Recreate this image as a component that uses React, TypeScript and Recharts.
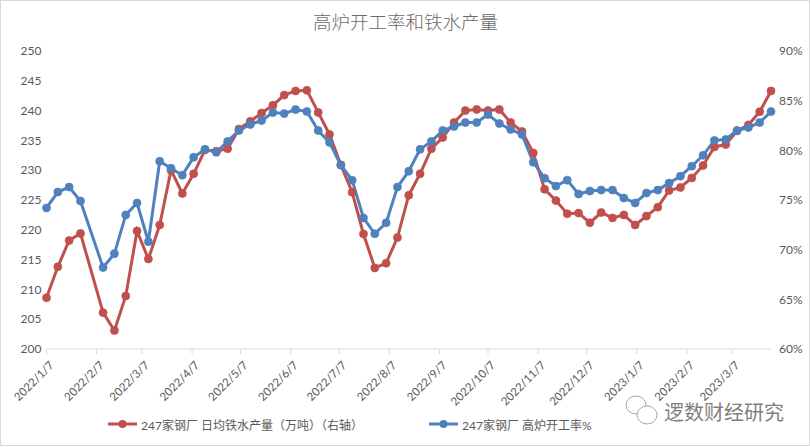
import React from "react";
import { LineChart, Line, XAxis, YAxis, Legend } from "recharts";

const dates = [
  "2022/1/7","2022/1/14","2022/1/21","2022/1/28","2022/2/11","2022/2/18","2022/2/25","2022/3/4","2022/3/11","2022/3/18","2022/3/25",
  "2022/4/1","2022/4/8","2022/4/15","2022/4/22","2022/4/29","2022/5/6","2022/5/13","2022/5/20","2022/5/27","2022/6/3",
  "2022/6/10","2022/6/17","2022/6/24","2022/7/1","2022/7/8","2022/7/15","2022/7/22","2022/7/29","2022/8/5","2022/8/12","2022/8/19","2022/8/26",
  "2022/9/2","2022/9/9","2022/9/16","2022/9/23","2022/9/30","2022/10/7","2022/10/14","2022/10/21","2022/10/28","2022/11/4",
  "2022/11/11","2022/11/18","2022/11/25","2022/12/2","2022/12/9","2022/12/16","2022/12/23","2022/12/30",
  "2023/1/6","2023/1/13","2023/1/20","2023/1/27","2023/2/3","2023/2/10","2023/2/17","2023/2/24","2023/3/3","2023/3/10","2023/3/17","2023/3/24","2023/3/31",
];
const ironOutput = [
  208.6,213.8,218.2,219.4,206.1,203.1,208.9,219.8,215.1,220.8,230.0,
  226.1,229.4,233.4,233.2,233.6,236.9,238.2,239.6,240.9,242.6,
  243.3,243.4,239.7,236.0,230.9,226.3,219.3,213.6,214.4,218.7,225.8,229.4,
  233.6,235.5,238.0,240.0,240.2,240.0,240.2,238.0,236.5,232.9,
  226.8,224.9,222.7,222.8,221.2,222.9,222.0,222.5,
  220.8,222.3,223.8,226.6,227.1,228.7,230.8,233.9,234.3,236.6,237.6,239.8,243.3,
];
const utilization = [
  74.2,75.8,76.3,74.9,68.2,69.6,73.5,74.7,70.8,78.9,78.2,
  77.5,79.3,80.1,79.8,80.9,82.0,82.6,83.0,83.8,83.7,
  84.1,83.9,82.0,80.8,78.5,77.0,73.2,71.6,72.7,76.3,77.9,80.1,
  80.9,82.0,82.4,82.8,82.8,83.6,82.7,82.1,81.6,78.8,
  77.2,76.4,77.0,75.6,75.9,76.0,76.0,75.2,
  74.7,75.7,76.0,76.7,77.4,78.4,79.5,81.0,81.1,82.0,82.3,82.8,83.9,
];
const monthTicks = [
  "2022/1/7","2022/2/7","2022/3/7","2022/4/7","2022/5/7","2022/6/7","2022/7/7","2022/8/7",
  "2022/9/7","2022/10/7","2022/11/7","2022/12/7","2023/1/7","2023/2/7","2023/3/7",
];
const leftTicks = [200,205,210,215,220,225,230,235,240,245,250];
const rightTicks = [60,65,70,75,80,85,90];
const title = "高炉开工率和铁水产量";
const seriesIron = "247家钢厂 日均铁水产量（万吨）（右轴）";
const seriesUtil = "247家钢厂 高炉开工率%";
const watermark = "逻数财经研究";

const toDay = (s: string) => {
  const [y, m, d] = s.split("/").map(Number);
  return Date.UTC(y, m - 1, d) / 86400000;
};
const dayLabel = (n: number) => {
  const dt = new Date(n * 86400000);
  return `${dt.getUTCFullYear()}/${dt.getUTCMonth() + 1}/${dt.getUTCDate()}`;
};
const rows = dates.map((d, i) => ({ day: toDay(d), iron: ironOutput[i], util: utilization[i] }));

const FONT = "Lato, 'Noto Sans CJK SC', sans-serif";
const TXT = "#595959";
const RED = "#c0504d";
const BLUE = "#4f81bd";

const DateTick = (p: any) => (
  <g>
    <line x1={p.x} x2={p.x} y1={349} y2={354} stroke="#d9d9d9" />
    <text
      x={p.x + 8}
      y={366}
      textAnchor="end"
      fontSize={11.5}
      fontFamily={FONT}
      fill={TXT}
      transform={`rotate(-45 ${p.x + 8} 366)`}
    >
      {dayLabel(p.payload.value)}
    </text>
  </g>
);

const LegendBox = () => (
  <div style={{ position: "relative", width: 810, height: 20, fontFamily: FONT, fontSize: 12, color: TXT }}>
    {[
      { left: 108, color: RED, label: seriesIron },
      { left: 429, color: BLUE, label: seriesUtil },
    ].map((e) => (
      <div key={e.label} style={{ position: "absolute", left: e.left, top: 0, whiteSpace: "nowrap", display: "flex", alignItems: "center", height: 20 }}>
        <svg width={30} height={20} style={{ display: "block" }}>
          <line x1={0} x2={29} y1={10} y2={10} stroke={e.color} strokeWidth={3} />
          <circle cx={14.5} cy={10} r={4} fill={e.color} />
        </svg>
        <span style={{ marginLeft: 3 }}>{e.label}</span>
      </div>
    ))}
  </div>
);

export default function App() {
  return (
    <div style={{ position: "absolute", left: 0, top: 0, width: 810, height: 447, background: "#fff", overflow: "hidden" }}>
      <LineChart
        width={810}
        height={447}
        data={rows}
        margin={{ top: 51, right: 0, bottom: 0, left: 0 }}
        style={{ position: "absolute", left: 0, top: 0 }}
      >
        <XAxis
          dataKey="day"
          type="number"
          scale="linear"
          domain={[toDay(dates[0]), toDay(dates[dates.length - 1])]}
          ticks={monthTicks.map(toDay)}
          tick={<DateTick />}
          tickLine={false}
          axisLine={{ stroke: "#d9d9d9" }}
          height={78}
          interval={0}
        />
        <YAxis
          yAxisId="left"
          orientation="left"
          domain={[200, 250]}
          ticks={leftTicks}
          interval={0}
          width={46.5}
          axisLine={false}
          tickLine={false}
          tickMargin={-1}
          tick={{ fontSize: 12, fontFamily: FONT, fill: TXT }}
        />
        <YAxis
          yAxisId="right"
          orientation="right"
          domain={[60, 90]}
          ticks={rightTicks}
          interval={0}
          width={39}
          axisLine={false}
          tickLine={false}
          tickFormatter={(v: number) => `${v}%`}
          tick={{ fontSize: 12, fontFamily: FONT, fill: TXT }}
        />
        <Legend
          content={<LegendBox />}
          wrapperStyle={{ position: "absolute", left: 0, top: 414, width: 810, height: 20 }}
        />
        <Line
          yAxisId="left"
          dataKey="iron"
          name={seriesIron}
          stroke={RED}
          strokeWidth={3}
          dot={{ r: 4, fill: RED, stroke: RED, strokeWidth: 0.75, clipDot: false }}
          activeDot={false}
          isAnimationActive={false}
        />
        <Line
          yAxisId="right"
          dataKey="util"
          name={seriesUtil}
          stroke={BLUE}
          strokeWidth={3}
          dot={{ r: 4, fill: BLUE, stroke: BLUE, strokeWidth: 0.75, clipDot: false }}
          activeDot={false}
          isAnimationActive={false}
        />
        <text x={405.5} y={29} textAnchor="middle" fontSize={18.5} fontWeight={300} fontFamily="'Noto Sans CJK SC', serif" fill="#6a6a6a">
          {title}
        </text>
        <g fill="#fff" stroke="#a6a6a6" strokeWidth={1}>
          <ellipse cx={636} cy={405} rx={10} ry={9} />
          <ellipse cx={647} cy={415} rx={10} ry={9} />
        </g>
        <text x={664} y={420} fontSize={20} fontFamily="'Noto Sans CJK SC', sans-serif" fill="#7f7f7f">
          {watermark}
        </text>
        <rect x={0.5} y={0.5} width={809} height={445} fill="none" stroke="#d9d9d9" />
      </LineChart>
    </div>
  );
}
